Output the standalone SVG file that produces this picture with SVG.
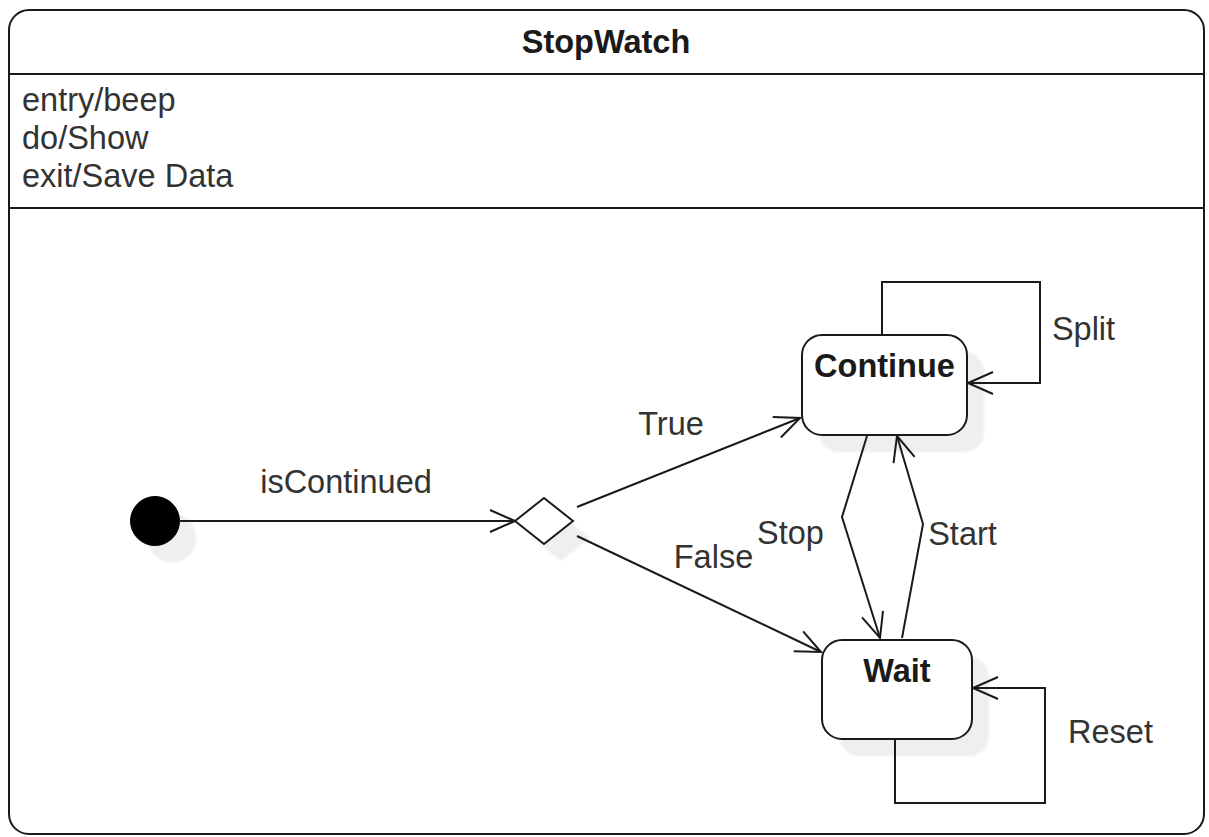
<svg xmlns="http://www.w3.org/2000/svg" width="1209" height="837" viewBox="0 0 1209 837">
<style>
.t{font-family:"Liberation Sans",Arial,sans-serif;font-size:32.5px;fill:#333}
.b{font-weight:bold;fill:#1a1a1a}
.m{text-anchor:middle}
.ln{fill:none;stroke:#1a1a1a;stroke-width:2}
.st{fill:#fff;stroke:#1a1a1a;stroke-width:2}
.sh{fill:#efefef;stroke:none;filter:url(#soft)}
</style>
<defs>
<filter id="soft" x="-20%" y="-20%" width="140%" height="140%">
<feGaussianBlur stdDeviation="1.2"/>
</filter>
<marker id="open" markerUnits="userSpaceOnUse" viewBox="0 0 28 26" refX="26" refY="13" markerWidth="28" markerHeight="26" orient="auto">
<path d="M1,2 L26,13 L1,24" fill="none" stroke="#1a1a1a" stroke-width="2"/>
</marker>
</defs>
<g id="stopwatch">
<rect x="9" y="10" width="1195" height="824" rx="20" ry="20" class="st"/>
<line x1="9" y1="74" x2="1204" y2="74" class="ln"/>
<line x1="9" y1="208" x2="1204" y2="208" class="ln"/>
<text x="606" y="53" class="t b m">StopWatch</text>
<text x="22" y="111" class="t">entry/beep</text>
<text x="22" y="149" class="t">do/Show</text>
<text x="22" y="187" class="t">exit/Save Data</text>
</g>
<g id="initial">
<circle cx="172" cy="538" r="24.5" class="sh"/>
<circle cx="155" cy="521" r="24.5" fill="#000" stroke="#000" stroke-width="1"/>
</g>
<g id="decision">
<polygon points="532,538 561,515 590,538 561,561" class="sh"/>
<polygon points="515,521 544,498 573,521 544,544" class="st"/>
</g>
<g id="continue">
<rect x="819" y="352" width="165" height="100" rx="20" ry="20" class="sh"/>
<rect x="802" y="335" width="165" height="100" rx="20" ry="20" class="st"/>
<text x="884.5" y="377" class="t b m">Continue</text>
</g>
<g id="wait">
<rect x="839" y="657" width="150" height="99" rx="20" ry="20" class="sh"/>
<rect x="822" y="640" width="150" height="99" rx="20" ry="20" class="st"/>
<text x="897" y="682" class="t b m">Wait</text>
</g>
<g id="connectors">
<path d="M179,521 L515,521" class="ln" marker-end="url(#open)"/>
<path d="M577,507 L800,418" class="ln" marker-end="url(#open)"/>
<path d="M577,536 L821,652" class="ln" marker-end="url(#open)"/>
<path d="M867,436 L842,517 L880,638" class="ln" marker-end="url(#open)"/>
<path d="M902,638 L923,524 L897,436" class="ln" marker-end="url(#open)"/>
<path d="M882,335 L882,282 L1040,282 L1040,383 L968,383" class="ln" marker-end="url(#open)"/>
<path d="M895,739 L895,803 L1045,803 L1045,688 L973,688" class="ln" marker-end="url(#open)"/>
<text x="346" y="493" class="t m">isContinued</text>
<text x="671" y="435" class="t m">True</text>
<text x="713.5" y="568" class="t m">False</text>
<text x="790.5" y="544" class="t m">Stop</text>
<text x="962.5" y="545" class="t m">Start</text>
<text x="1083.5" y="340" class="t m">Split</text>
<text x="1110.5" y="743" class="t m">Reset</text>
</g>
</svg>
